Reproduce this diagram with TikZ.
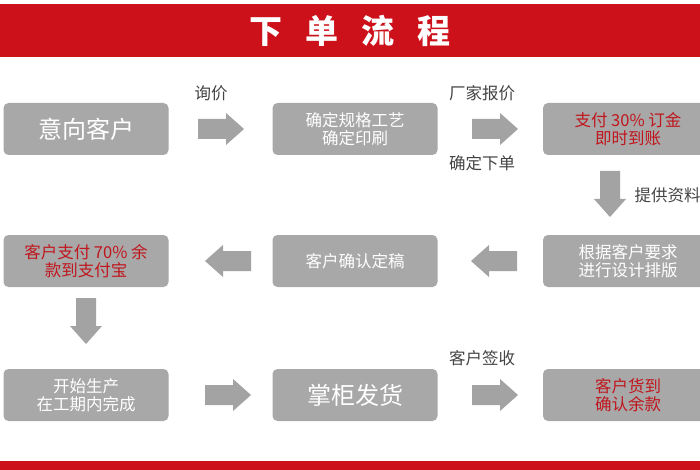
\documentclass[tikz,border=0pt]{standalone}
\usepackage{fontspec}
\setmainfont{Noto Sans CJK SC}
\definecolor{hdred}{HTML}{CC111B}
\definecolor{boxgray}{HTML}{A8A8A8}
\definecolor{arrgray}{HTML}{A3A3A3}
\definecolor{txtred}{HTML}{C0161D}
\definecolor{lblgray}{HTML}{444444}
\tikzset{
  stepbox/.style={fill=boxgray, rounded corners=5pt, minimum width=165pt, minimum height=52pt,
    align=center, text=white, font=\fontsize{16.5}{18}\selectfont, inner sep=0pt},
  bigtxt/.style={font=\fontsize{24}{26}\selectfont},
  redtxt/.style={text=txtred},
  lbl/.style={text=lblgray, font=\fontsize{16.5}{18}\selectfont},
  blockarr/.pic={\fill[arrgray] (-23,-10) -- (5,-10) -- (5,-16) -- (23,0) -- (5,16) -- (5,10) -- (-23,10) -- cycle;}
}
\begin{document}
\begin{tikzpicture}[x=1pt,y=-1pt]
        \useasboundingbox (0,0) rectangle (700,470);
        \clip (0,0) rectangle (700,470);
        \fill[white] (0,0) rectangle (700,470);
        % header and footer
        \fill[hdred] (0,4) rectangle (700,57);
        \node[text=white, font=\fontsize{33}{35}\selectfont\bfseries] (title) at (350,31) {下\ \ \ 单\ \ \ 流\ \ \ 程};
        \fill[hdred] (0,461) rectangle (700,470);
        % row 1
        \node[stepbox, bigtxt] (yx) at (86,129) {意向客户};
        \node[stepbox] (qd) at (355,129) {确定规格工艺\\确定印刷};
        \node[stepbox, redtxt, minimum width=170pt] (zf) at (628,129) {支付 30\% 订金\\即时到账};
        \pic at (221,129) {blockarr};
        \pic at (495,129) {blockarr};
        \node[lbl] (l1) at (211,93) {询价};
        \node[lbl] (l2) at (482,93) {厂家报价};
        \node[lbl] (l3) at (482,163) {确定下单};
        \pic[rotate=-90] at (610,194) {blockarr};
        \node[lbl, anchor=west] (l4) at (631,195) {提供资料};
        % row 2
        \node[stepbox, minimum width=170pt] (gj) at (628,261) {根据客户要求\\进行设计排版};
        \node[stepbox] (qr) at (355,261) {客户确认定稿};
        \node[stepbox, redtxt] (yk) at (86,261) {客户支付 70\% 余\\款到支付宝};
        \pic[rotate=180] at (494,261) {blockarr};
        \pic[rotate=180] at (228,261) {blockarr};
        \pic[rotate=-90] at (86,321) {blockarr};
        % row 3
        \node[stepbox] (sc) at (86,395) {开始生产\\在工期内完成};
        \node[stepbox, bigtxt] (fh) at (355,395) {掌柜发货};
        \node[stepbox, redtxt, minimum width=170pt] (hd) at (628,395) {客户货到\\确认余款};
        \pic at (228,395) {blockarr};
        \pic at (495,395) {blockarr};
        \node[lbl] (l5) at (482,358) {客户签收};
    \end{tikzpicture}
\end{document}
